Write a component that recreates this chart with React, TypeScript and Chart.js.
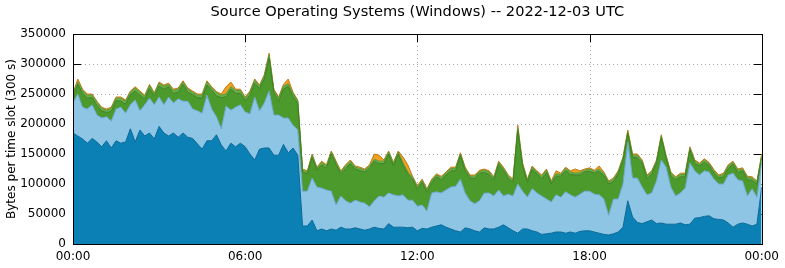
import React, { useEffect, useRef } from 'react';
import { Chart, registerables } from 'chart.js';

Chart.register(...registerables);

const TITLE = 'Source Operating Systems (Windows) -- 2022-12-03 UTC';
const Y_TITLE = 'Bytes per time slot (300 s)';
const FONT = 'DejaVu Sans';

// x axis: hours of the day, one sample every 10 minutes
const SLOT_MINUTES = 10;
const xTickValues = [0, 6, 12, 18, 24];
const xTickLabels = ['00:00', '06:00', '12:00', '18:00', '00:00'];
const yTickValues = [0, 50000, 100000, 150000, 200000, 250000, 300000, 350000];

// series values, in thousands of bytes per slot (bottom to top of the stack)
const darkBlueK = [
  185, 180, 175, 168, 176, 170, 162, 172, 160, 172, 168, 170,
  192, 170, 190, 180, 185, 175, 196, 185, 180, 185, 178, 185,
  178, 176, 167, 158, 172, 172, 182, 165, 155, 168, 162, 168,
  162, 150, 140, 158, 160, 160, 148, 148, 166, 152, 160, 148,
  30, 30, 40, 22, 25, 22, 25, 23, 28, 25, 25, 27,
  25, 23, 25, 28, 26, 25, 34, 28, 28, 28, 27, 28,
  22, 26, 25, 28, 30, 32, 28, 25, 22, 20, 27, 25,
  22, 20, 27, 25, 25, 28, 32, 27, 22, 18, 25, 25,
  22, 20, 16, 17, 18, 20, 20, 18, 20, 18, 21, 22,
  22, 20, 18, 16, 15, 17, 20, 28, 72, 45, 36, 34,
  37, 40, 34, 35, 33, 33, 33, 35, 32, 33, 43, 44,
  46, 47, 42, 41, 40, 35, 28, 33, 35, 33, 30, 33,
  95,
];

const lightBlueK = [
  50, 70, 53, 57, 56, 45, 48, 40, 45, 53, 60, 48,
  40, 70, 32, 52, 58, 57, 49, 47, 65, 50, 64, 53,
  60, 49, 55, 60, 76, 53, 30, 27, 75, 55, 66, 64,
  58, 67, 105, 64, 75, 95, 67, 67, 44, 58, 38, 42,
  58, 58, 70, 73, 68, 68, 63, 42, 52, 47, 43, 46,
  45, 45, 37, 44, 54, 53, 51, 54, 52, 54, 46, 45,
  41, 39, 30, 57, 57, 53, 62, 70, 74, 88, 58, 47,
  45, 52, 58, 60, 55, 62, 48, 56, 58, 82, 63, 53,
  70, 65, 64, 58, 52, 62, 58, 69, 62, 60, 62, 66,
  66, 63, 64, 59, 33, 58, 55, 72, 98, 65, 74, 61,
  45, 45, 71, 105, 95, 62, 47, 50, 61, 102, 79, 71,
  76, 73, 66, 59, 60, 80, 90, 74, 70, 47, 62, 45,
  40,
];

const greenK = [
  10, 16, 23, 18, 12, 16, 12, 7, 16, 14, 10, 15,
  17, 15, 26, 10, 16, 14, 18, 26, 17, 16, 11, 28,
  15, 24, 22, 25, 17, 31, 35, 52, 15, 35, 23, 19,
  19, 31, 23, 37, 40, 54, 37, 23, 48, 53, 48, 44,
  32, 29, 34, 28, 39, 36, 62, 67, 37, 54, 66, 52,
  52, 52, 64, 66, 54, 56, 65, 48, 70, 49, 44, 35,
  28, 38, 31, 17, 25, 22, 25, 27, 26, 39, 37, 38,
  42, 46, 34, 31, 27, 42, 43, 26, 23, 89, 41, 25,
  32, 32, 29, 44, 30, 31, 35, 35, 34, 37, 32, 32,
  33, 35, 39, 39, 52, 29, 42, 39, 14, 34, 34, 40,
  27, 32, 29, 36, 15, 19, 27, 27, 19, 22, 12, 15,
  14, 11, 10, 10, 12, 11, 15, 12, 17, 27, 14, 22,
  9,
];

const lightGreenK = [
  5, 4, 5, 5, 4, 5, 4, 4, 5, 4, 5, 5,
  4, 5, 5, 4, 5, 4, 5, 5, 4, 5, 5, 4,
  5, 4, 4, 5, 5, 4, 5, 4, 5, 4, 5, 5,
  4, 5, 5, 4, 5, 6, 4, 5, 5, 4, 5, 4,
  3, 3, 4, 3, 4, 4, 3, 4, 3, 4, 4, 3,
  4, 3, 4, 3, 4, 4, 3, 4, 3, 4, 3, 3,
  4, 3, 4, 4, 3, 4, 3, 4, 4, 3, 4, 3,
  4, 3, 4, 4, 3, 4, 3, 4, 3, 4, 4, 3,
  4, 3, 4, 4, 3, 4, 3, 4, 4, 3, 4, 3,
  4, 3, 4, 4, 3, 4, 3, 4, 3, 4, 4, 3,
  4, 3, 4, 4, 3, 4, 3, 4, 4, 3, 4, 3,
  4, 3, 4, 3, 4, 4, 3, 4, 3, 4, 4, 3,
  4,
];

const orangeK = [
  2, 5, 2, 2, 2, 2, 2, 2, 2, 2, 2, 2,
  2, 2, 2, 2, 2, 2, 2, 2, 2, 2, 2, 2,
  2, 2, 2, 2, 2, 2, 2, 2, 12, 8, 2, 2,
  2, 2, 2, 2, 2, 3, 2, 2, 3, 8, 2, 2,
  2, 2, 2, 2, 2, 2, 2, 2, 2, 2, 2, 2,
  2, 2, 2, 9, 10, 2, 2, 2, 2, 10, 12, 2,
  2, 2, 2, 2, 2, 2, 2, 2, 2, 2, 2, 2,
  2, 2, 2, 2, 2, 2, 2, 2, 2, 5, 2, 2,
  2, 2, 2, 2, 2, 5, 2, 2, 2, 7, 3, 2,
  2, 2, 5, 2, 2, 2, 2, 2, 3, 2, 2, 2,
  2, 2, 2, 2, 2, 2, 2, 2, 2, 2, 2, 2,
  2, 2, 2, 2, 2, 2, 2, 2, 2, 2, 2, 2,
  2,
];

const SERIES = [
  { label: 'OS 1', values: darkBlueK, fill: '#0b80b4', line: '#086a98' },
  { label: 'OS 2', values: lightBlueK, fill: '#8ec4e4', line: '#6aa6cc' },
  { label: 'OS 3', values: greenK, fill: '#4c9a2c', line: '#3c8022' },
  { label: 'OS 4', values: lightGreenK, fill: '#68b04a', line: '#57983a' },
  { label: 'OS 5', values: orangeK, fill: '#f0a020', line: '#c07c18' },
];

const framePlugin = {
  id: 'gnuFrame',
  beforeDatasetsDraw(chart: any) {
    const { ctx, chartArea: a, scales } = chart;
    const tl = 8;
    ctx.save();
    // dotted grid
    ctx.strokeStyle = '#a8a8a8';
    ctx.lineWidth = 1;
    ctx.setLineDash([1, 3]);
    for (const v of yTickValues) {
      if (v === yTickValues[0] || v === yTickValues[yTickValues.length - 1]) continue;
      const y = Math.round(scales.y.getPixelForValue(v)) + 0.5;
      ctx.beginPath();
      ctx.moveTo(a.left + tl, y);
      ctx.lineTo(a.right - tl, y);
      ctx.stroke();
    }
    for (const v of xTickValues) {
      if (v === xTickValues[0] || v === xTickValues[xTickValues.length - 1]) continue;
      const x = Math.round(scales.x.getPixelForValue(v)) + 0.5;
      ctx.beginPath();
      ctx.moveTo(x, a.top + tl);
      ctx.lineTo(x, a.bottom - tl);
      ctx.stroke();
    }
    // inward tick marks
    ctx.setLineDash([]);
    ctx.strokeStyle = '#000';
    for (const v of yTickValues) {
      const y = Math.round(scales.y.getPixelForValue(v)) + 0.5;
      ctx.beginPath();
      ctx.moveTo(a.left, y);
      ctx.lineTo(a.left + tl, y);
      ctx.moveTo(a.right, y);
      ctx.lineTo(a.right - tl, y);
      ctx.stroke();
    }
    for (const v of xTickValues) {
      const x = Math.round(scales.x.getPixelForValue(v)) + 0.5;
      ctx.beginPath();
      ctx.moveTo(x, a.top);
      ctx.lineTo(x, a.top + tl);
      ctx.moveTo(x, a.bottom);
      ctx.lineTo(x, a.bottom - tl);
      ctx.stroke();
    }
    ctx.restore();
  },
  afterDatasetsDraw(chart: any) {
    const { ctx, chartArea: a } = chart;
    ctx.save();
    ctx.strokeStyle = '#000';
    ctx.lineWidth = 1;
    ctx.strokeRect(Math.round(a.left) + 0.5, Math.round(a.top) + 0.5, Math.round(a.right - a.left), Math.round(a.bottom - a.top));
    // title centred over the plot area
    ctx.fillStyle = '#000';
    ctx.font = `14.6px "${FONT}"`;
    ctx.textAlign = 'center';
    ctx.textBaseline = 'middle';
    ctx.fillText(TITLE, (a.left + a.right) / 2, 12.5);
    ctx.restore();
  },
};

export default function App() {
  const ref = useRef<HTMLCanvasElement>(null);

  useEffect(() => {
    if (!ref.current) return;
    const hours = darkBlueK.map((_, i) => (i * SLOT_MINUTES) / 60);
    const datasets = SERIES.map((s, k) => ({
      label: s.label,
      data: s.values.map((v, i) => ({ x: hours[i], y: v * 1000 })),
      fill: k === 0 ? 'origin' : '-1',
      backgroundColor: s.fill,
      borderColor: s.line,
      borderWidth: 1,
      pointRadius: 0,
      tension: 0,
    }));
    const tickFont = { family: FONT, size: 12 };
    const chart = new Chart(ref.current, {
      type: 'line',
      data: { datasets },
      plugins: [framePlugin],
      options: {
        animation: false,
        responsive: false,
        maintainAspectRatio: false,
        layout: { padding: { left: 0, right: 22, top: 34, bottom: 0 } },
        plugins: {
          legend: { display: false },
          tooltip: { enabled: false },
          title: { display: false },
        },
        scales: {
          x: {
            type: 'linear',
            min: 0,
            max: 24,
            afterBuildTicks: (s: any) => {
              s.ticks = xTickValues.map((v) => ({ value: v }));
            },
            ticks: {
              autoSkip: false,
              maxRotation: 0,
              color: '#000',
              font: tickFont,
              padding: 6,
              callback: (v: any) => xTickLabels[xTickValues.indexOf(Number(v))],
            },
            grid: { display: false, drawTicks: false },
            border: { display: false },
            afterFit: (s: any) => {
              s.height = 24;
            },
          },
          y: {
            stacked: true,
            min: 0,
            max: 350000,
            afterBuildTicks: (s: any) => {
              s.ticks = yTickValues.map((v) => ({ value: v }));
            },
            ticks: {
              color: '#000',
              font: tickFont,
              padding: 7,
              callback: (v: any) => String(v),
            },
            grid: { display: false, drawTicks: false },
            border: { display: false },
            title: {
              display: true,
              text: Y_TITLE,
              color: '#000',
              font: tickFont,
              padding: { top: 5, bottom: 0 },
            },
            afterFit: (s: any) => {
              s.width = 73;
            },
          },
        },
      } as any,
    });
    return () => chart.destroy();
  }, []);

  return (
    <div style={{ position: 'fixed', left: 0, top: 0, width: 785, height: 268, background: '#fff' }}>
      <canvas ref={ref} width={785} height={268} style={{ display: 'block' }} />
    </div>
  );
}
